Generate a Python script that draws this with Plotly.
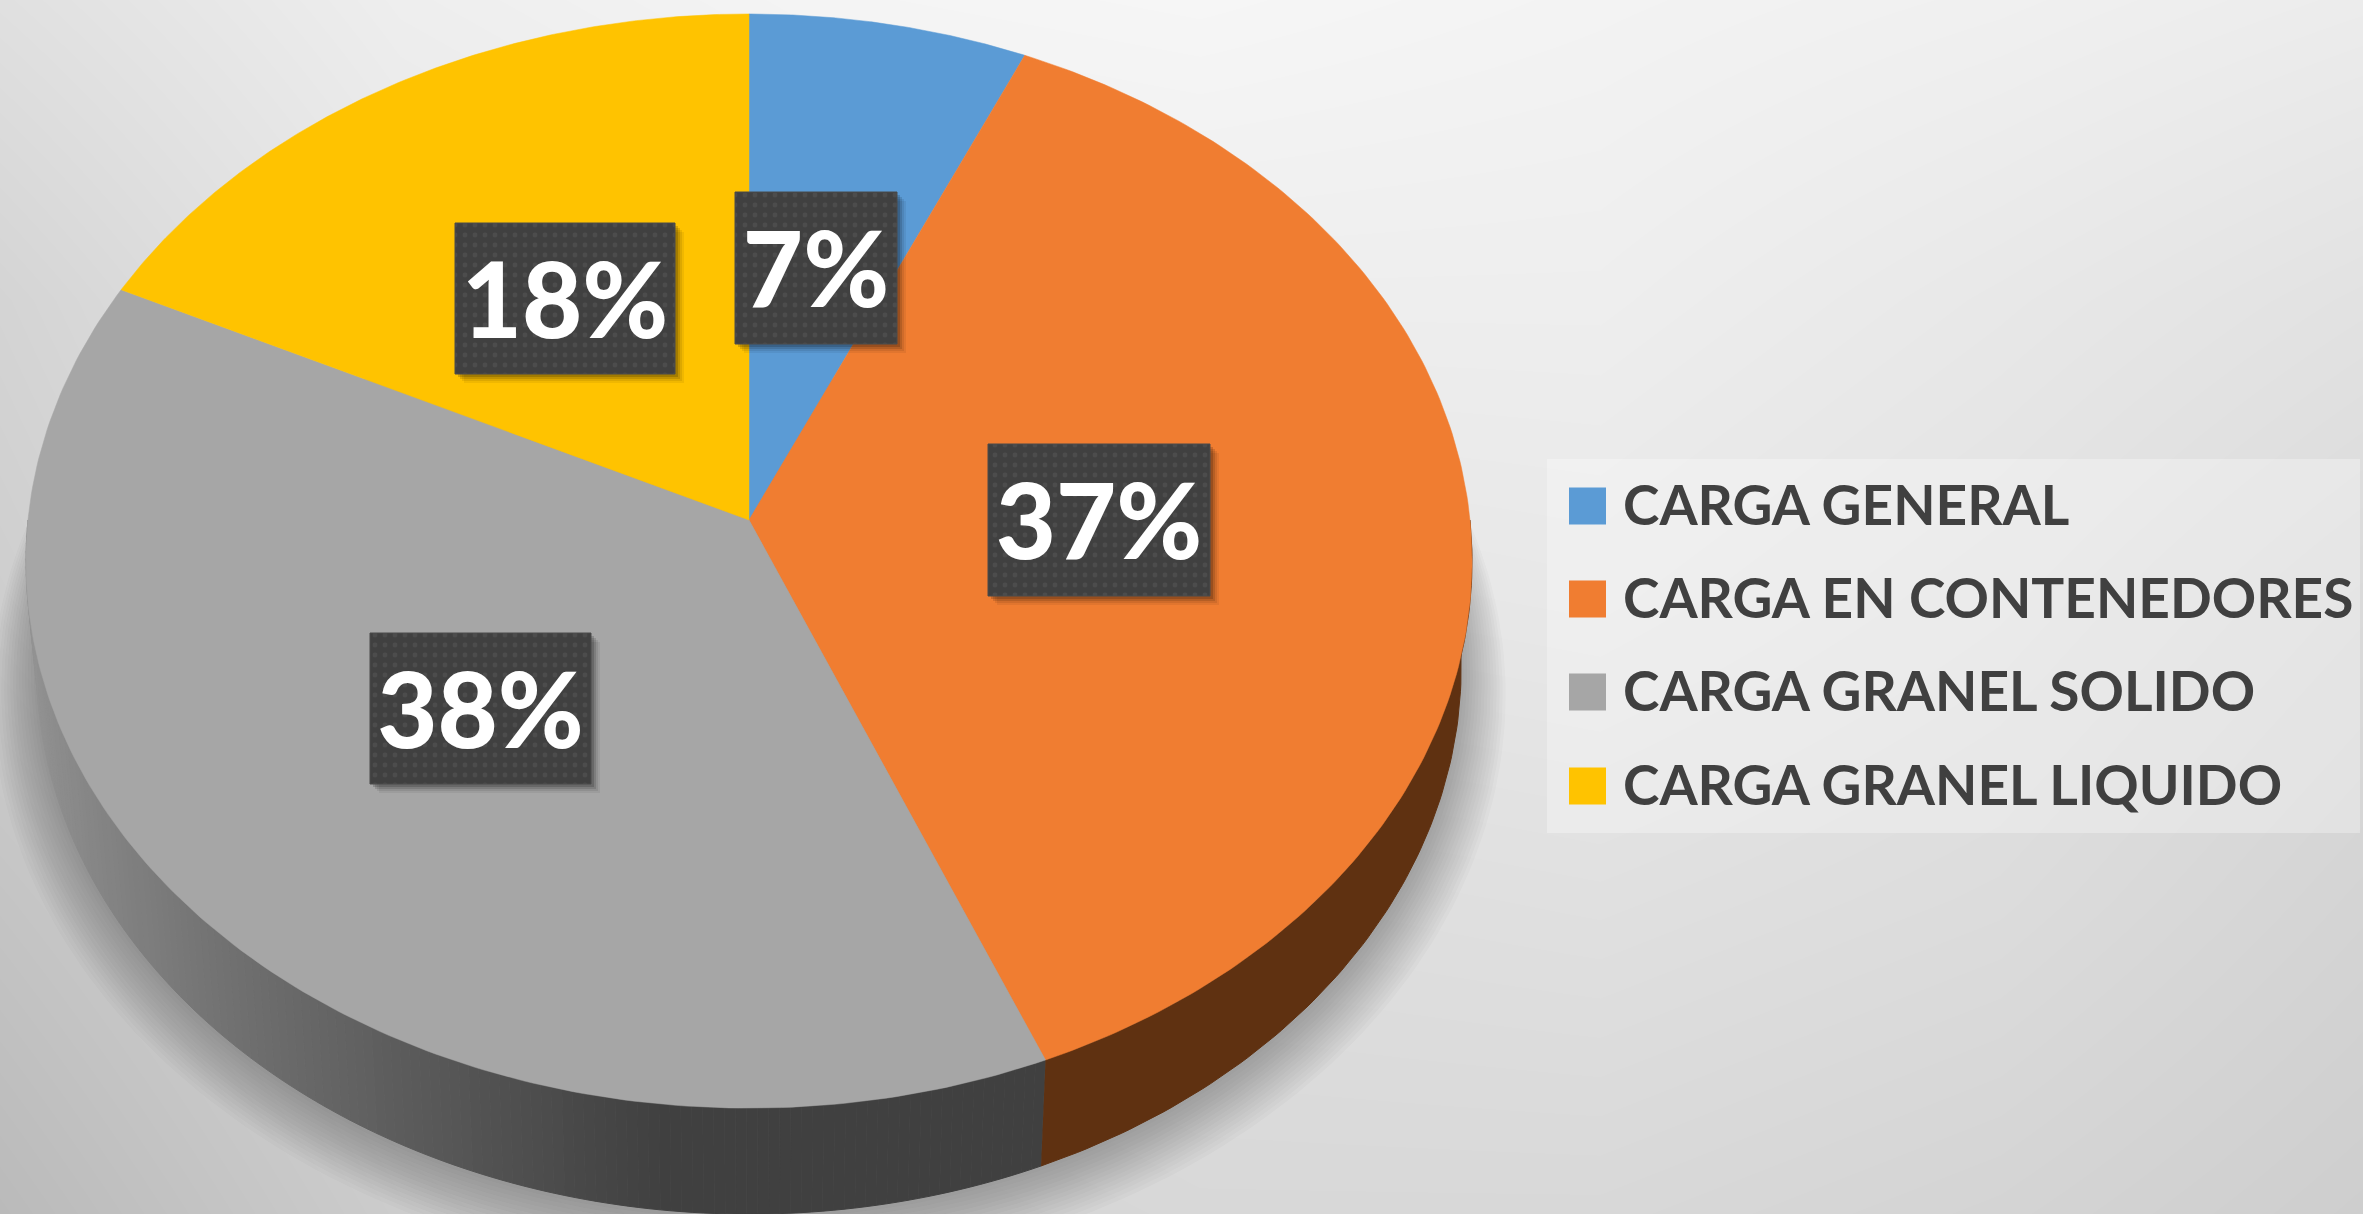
import numpy as np
import plotly.graph_objects as go

CATEGORIES = ["CARGA GENERAL", "CARGA EN CONTENEDORES", "CARGA GRANEL SOLIDO", "CARGA GRANEL LIQUIDO"]
VALUES = [6.7, 37.05, 38.45, 17.8]
COLORS = ["#5B9BD5", "#F07D31", "#A6A6A6", "#FFC300"]
SIDE_COLORS = ["#5B9BD5", "#5F3111", "#404040", "#FFC300"]
# label box (left, top, right, bottom) in picture pixels
LABEL_BOXES = [(735, 192, 897, 344), (988, 444, 1210, 596), (370, 633, 591, 784), (455, 223, 675, 374)]
# page backdrop brightness, sampled on a coarse grid (rows top to bottom)
BG_X = [0, 400, 800, 1200, 1600, 2000, 2363]
BG_Y = [0, 300, 600, 900, 1214]
BG_Z = [
    [224, 238, 244, 246, 243, 240, 236],
    [212, 230, 236, 238, 238, 232, 226],
    [206, 222, 228, 230, 232, 226, 218],
    [196, 212, 218, 222, 224, 220, 212],
    [186, 204, 212, 216, 216, 212, 206],
]

W, H = 2363, 1214
CX, CY, A, B, K = 749.0, 520.0, 721.0, 544.0, 0.075
DEPTH, SHRINK = 106.0, 0.985


def project(theta_deg, radius=1.0):
    t = np.radians(theta_deg)
    X, Y = radius * np.sin(t), radius * np.cos(t)
    d = 1 + K * Y
    return CX + A * X / d, CY - B * Y / d


def lower(theta_deg, radius=1.0):
    x, y = project(theta_deg, radius)
    return CX + SHRINK * (x - CX), y + DEPTH


def flat(x, y, color, border=None, width=0, **kw):
    return go.Scatter(x=x, y=y, mode="lines", fill="toself", fillcolor=color,
                      line=dict(color=border or color, width=width),
                      hoverinfo="skip", showlegend=False, **kw)


fig = go.Figure()
fig.add_trace(go.Heatmap(x=BG_X, y=BG_Y, z=BG_Z, zsmooth="best", showscale=False, hoverinfo="skip",
                         colorscale=[[0, "rgb(186,186,186)"], [1, "rgb(246,246,246)"]], zmin=186, zmax=246))

# soft cast shadow under the disc, narrowing towards both ends of its arc
for s in np.linspace(1.0, 1.11, 16):
    th = np.linspace(62, 298, 200)
    x, y = lower(th)
    my = CY + DEPTH
    taper = np.clip(np.abs(th - 180) * -1 / 118 + 1, 0, 1) ** 0.45
    sc = 1 + (s - 1) * taper
    fig.add_trace(flat(CX + (x - CX) * sc, my + (y - my) * sc, "rgba(60,60,60,0.022)"))

shares = np.array(VALUES, dtype=float) / sum(VALUES) * 360
ends = np.cumsum(shares)
starts = ends - shares

# side wall, cut into narrow bands so the grey part can shade from light to dark
for st, en, col, name in zip(starts, ends, SIDE_COLORS, CATEGORIES):
    lo, hi = max(st, 90), min(en, 270)
    if hi <= lo:
        continue
    if name == "CARGA GRANEL SOLIDO":
        edges = np.linspace(lo, hi, 140)
        for a, b in zip(edges[:-1], edges[1:]):
            m = lower((a + b) / 2)[0]
            f = np.clip((m - 30) / (660 - 30), 0, 1) ** 0.75
            g = int(round(150 + (64 - 150) * f))
            c = f"rgb({g},{g},{g})"
            xt, yt = project(np.array([a, b]))
            xb, yb = lower(np.array([b, a]))
            fig.add_trace(flat(np.r_[xt, xb], np.r_[yt, yb], c, width=1))
    else:
        th = np.linspace(lo, hi, 90)
        xt, yt = project(th)
        xb, yb = lower(th[::-1])
        fig.add_trace(flat(np.r_[xt, xb], np.r_[yt, yb], col, width=1))

# top face
for st, en, col, name, val in zip(starts, ends, COLORS, CATEGORIES, VALUES):
    th = np.linspace(st, en, 180)
    x, y = project(th)
    fig.add_trace(go.Scatter(x=np.r_[CX, x, CX], y=np.r_[CY, y, CY], mode="lines", fill="toself",
                             fillcolor=col, line=dict(color=col, width=0.5), name=name,
                             text=f"{name}: {round(val)}%", hoverinfo="text", hoveron="fills", showlegend=False))

fig.update_layout(
    width=W, height=H, margin=dict(l=0, r=0, t=0, b=0), autosize=False,
    paper_bgcolor="#e4e4e4", plot_bgcolor="rgba(0,0,0,0)", showlegend=False,
    xaxis=dict(range=[0, W], visible=False, fixedrange=True),
    yaxis=dict(range=[H, 0], visible=False, fixedrange=True),
    font=dict(family="Lato"),
)

# data labels
for (l, t, r, b), val in zip(LABEL_BOXES, VALUES):
    for off, alpha in ((9, 0.06), (7, 0.08), (5, 0.12), (3, 0.16)):
        fig.add_trace(flat([l + off, r + off, r + off, l + off, l + off],
                           [t + off, t + off, b + off, b + off, t + off], f"rgba(0,0,0,{alpha})"))
    fig.add_trace(go.Scatter(x=[l, r, r, l, l], y=[t, t, b, b, t], mode="lines", fill="toself",
                             fillcolor="#404040", line=dict(color="#4a4a4a", width=1),
                             fillpattern=dict(shape=".", size=10, solidity=0.18, fgcolor="#585858", bgcolor="#404040"),
                             hoverinfo="skip", showlegend=False))
    fig.add_trace(go.Scatter(x=[(l + r) / 2], y=[(t + b) / 2 + 13], mode="text", text=[f"{round(val)}%"],
                             textposition="middle center",
                             textfont=dict(family="Lato", size=104, color="white", weight=900),
                             hoverinfo="skip", showlegend=False))

# legend panel
fig.add_trace(flat([1547, 2360, 2360, 1547, 1547], [459, 459, 833, 833, 459], "rgba(255,255,255,0.3)"))
LEG_Y = [506, 599, 692, 786]
fig.add_trace(go.Scatter(x=[1587.5] * 4, y=LEG_Y, mode="markers",
                         marker=dict(symbol="square", size=37, color=COLORS, line=dict(width=0)),
                         hoverinfo="skip", showlegend=False))
fig.add_trace(go.Scatter(x=[1623] * 4, y=[v + 5 for v in LEG_Y], mode="text", text=CATEGORIES, textposition="middle right",
                         textfont=dict(family="Lato", size=55, color="#404040", weight="bold"),
                         hoverinfo="skip", showlegend=False))

fig.write_html("out.html", config=dict(displayModeBar=False),
               post_script="document.body.style.margin='0';document.body.style.overflow='hidden';")
